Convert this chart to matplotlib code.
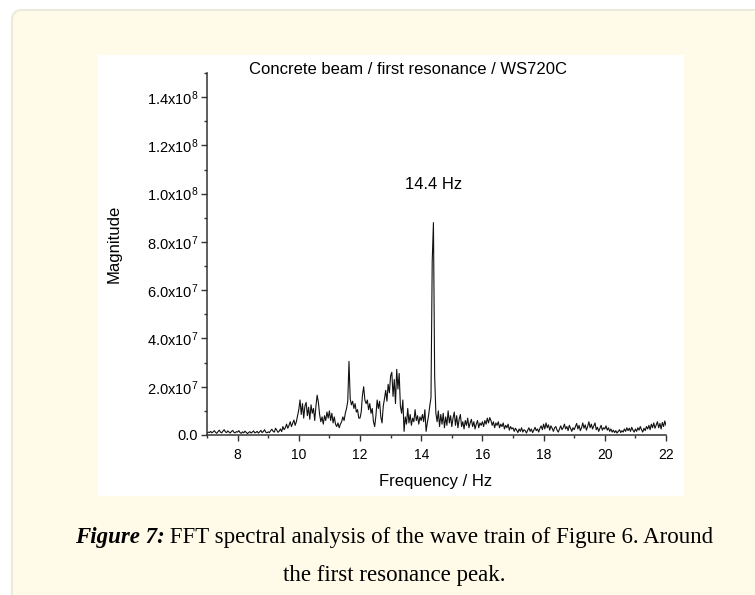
import numpy as np
import matplotlib
matplotlib.use("Agg")
import matplotlib.pyplot as plt
from matplotlib.patches import FancyBboxPatch, Rectangle

plt.rcParams['font.family'] = 'Liberation Sans'
plt.rcParams['mathtext.fontset'] = 'custom'
plt.rcParams['mathtext.rm'] = 'Liberation Sans'
plt.rcParams['mathtext.it'] = 'Liberation Sans:italic'

# FFT bins: 0.04 Hz spacing from 7 Hz to 22 Hz
FREQ_START = 7.0
FREQ_STEP = 0.04

# Magnitude, in units of 1e7, one row per Hz
magnitude = [
    # 7 Hz
    0.08, 0.12, 0.10, 0.15, 0.09, 0.13, 0.18, 0.11, 0.07, 0.14, 0.20, 0.12, 0.09,
    0.16, 0.22, 0.13, 0.10, 0.17, 0.12, 0.08, 0.15, 0.19, 0.11, 0.09, 0.14,
    # 8 Hz
    0.12, 0.18, 0.10, 0.07, 0.13, 0.09, 0.16, 0.11, 0.06, 0.10, 0.14, 0.08, 0.12,
    0.17, 0.09, 0.11, 0.15, 0.08, 0.13, 0.19, 0.10, 0.14, 0.22, 0.12, 0.09,
    # 9 Hz
    0.13, 0.10, 0.18, 0.24, 0.15, 0.12, 0.28, 0.20, 0.11, 0.16, 0.25, 0.14, 0.35,
    0.22, 0.30, 0.45, 0.28, 0.40, 0.55, 0.35, 0.48, 0.62, 0.40, 0.55, 0.80,
    # 10 Hz
    1.05, 1.45, 0.85, 1.30, 0.70, 1.20, 1.35, 0.80, 1.15, 0.65, 1.25, 0.90, 1.10,
    0.60, 1.20, 1.65, 1.35, 0.85, 0.55, 0.75, 0.45, 0.80, 0.60, 0.95, 0.70,
    # 11 Hz
    1.00, 0.60, 0.90, 0.50, 0.75, 0.45, 0.35, 0.50, 0.30, 0.45, 0.55, 0.75, 0.60,
    0.90, 1.10, 1.40, 3.05, 1.50, 1.25, 1.40, 1.10, 1.30, 0.95, 1.05, 0.70,
    # 12 Hz
    0.70, 0.95, 1.65, 2.00, 1.45, 1.30, 1.45, 1.05, 1.30, 0.90, 1.10, 0.55, 0.35,
    0.80, 1.45, 1.10, 1.40, 0.75, 0.50, 1.20, 1.50, 1.85, 1.40, 2.10, 1.75,
    # 13 Hz
    2.45, 2.60, 1.60, 2.30, 1.30, 2.72, 1.90, 2.55, 1.20, 0.90, 1.45, 0.15, 0.75,
    0.45, 1.10, 0.50, 0.85, 0.40, 0.70, 0.55, 1.05, 0.60, 0.80, 0.45, 0.75,
    # 14 Hz
    0.60, 0.85, 0.55, 1.05, 0.15, 0.50, 0.80, 1.20, 1.55, 7.20, 8.80, 2.40, 0.90,
    0.55, 1.00, 0.35, 0.85, 0.45, 0.90, 0.30, 0.75, 0.40, 1.00, 0.50, 0.80,
    # 15 Hz
    0.35, 0.70, 0.95, 0.40, 0.80, 0.30, 0.65, 0.85, 0.35, 0.55, 0.25, 0.60, 0.40,
    0.70, 0.30, 0.50, 0.65, 0.35, 0.55, 0.25, 0.45, 0.60, 0.30, 0.50, 0.40,
    # 16 Hz
    0.55, 0.35, 0.60, 0.45, 0.70, 0.50, 0.72, 0.60, 0.40, 0.55, 0.30, 0.50, 0.40,
    0.55, 0.30, 0.45, 0.35, 0.50, 0.25, 0.40, 0.30, 0.45, 0.20, 0.35, 0.25,
    # 17 Hz
    0.30, 0.15, 0.28, 0.20, 0.10, 0.25, 0.15, 0.30, 0.12, 0.22, 0.18, 0.08, 0.20,
    0.30, 0.15, 0.25, 0.10, 0.20, 0.32, 0.18, 0.25, 0.12, 0.28, 0.38, 0.22,
    # 18 Hz
    0.45, 0.25, 0.50, 0.30, 0.42, 0.20, 0.38, 0.28, 0.15, 0.30, 0.35, 0.20, 0.12,
    0.25, 0.38, 0.22, 0.30, 0.45, 0.25, 0.35, 0.18, 0.40, 0.28, 0.15, 0.30,
    # 19 Hz
    0.22, 0.35, 0.48, 0.25, 0.40, 0.18, 0.30, 0.50, 0.28, 0.42, 0.20, 0.35, 0.55,
    0.30, 0.45, 0.25, 0.38, 0.50, 0.22, 0.32, 0.15, 0.28, 0.40, 0.20, 0.30,
    # 20 Hz
    0.25, 0.38, 0.20, 0.30, 0.15, 0.25, 0.12, 0.20, 0.10, 0.18, 0.08, 0.15, 0.22,
    0.10, 0.18, 0.12, 0.25, 0.15, 0.30, 0.18, 0.28, 0.15, 0.32, 0.20, 0.12,
    # 21 Hz .. 22 Hz
    0.25, 0.15, 0.30, 0.20, 0.35, 0.22, 0.12, 0.28, 0.18, 0.35, 0.25, 0.40, 0.22,
    0.45, 0.30, 0.50, 0.28, 0.42, 0.55, 0.30, 0.48, 0.25, 0.52, 0.35, 0.58, 0.40,
]

xticks = [8, 10, 12, 14, 16, 18, 20, 22]
yticks = [0, 2e7, 4e7, 6e7, 8e7, 1.0e8, 1.2e8, 1.4e8]
ytick_labels = ["0.0", "2.0x10$^{7}$", "4.0x10$^{7}$", "6.0x10$^{7}$",
                "8.0x10$^{7}$", "1.0x10$^{8}$", "1.2x10$^{8}$", "1.4x10$^{8}$"]

title = "Concrete beam / first resonance / WS720C"
peak_label = "14.4 Hz"
caption_bold = "Figure 7:"
caption_line1 = " FFT spectral analysis of the wave train of Figure 6. Around"
caption_line2 = "the first resonance peak."

mag = np.array(magnitude) * 1e7
freq = FREQ_START + FREQ_STEP * np.arange(len(mag))

W, H = 755, 595
fig = plt.figure(figsize=(W / 100, H / 100), dpi=100, facecolor='white')

# page background drawn in pixel coordinates
bg = fig.add_axes([0, 0, 1, 1], zorder=-1)
bg.set_xlim(0, W)
bg.set_ylim(H, 0)
bg.axis('off')
bg.add_patch(FancyBboxPatch((12, 10), 800, 700,
                            boxstyle="round,pad=0,rounding_size=10",
                            fc='#FFFBE8', ec='#ECE9DD', lw=1.5))
bg.add_patch(Rectangle((98, 55), 586, 441, fc='white', ec='none'))

# plot area: 207..666 px across, 73..435 px down
ax = fig.add_axes([207 / W, 1 - 435 / H, 459 / W, 362 / H])
ax.patch.set_alpha(0)
ax.plot(freq, mag, color='#111111', lw=0.8)

ax.set_xlim(7, 22)
ax.set_ylim(0, 1.5e8)
ax.set_xticks(xticks)
ax.set_xticks(np.arange(7, 23, 2), minor=True)
ax.set_yticks(yticks)
ax.set_yticklabels(ytick_labels)
ax.set_yticks(np.arange(1e7, 1.6e8, 2e7), minor=True)

for s in ['top', 'right']:
    ax.spines[s].set_visible(False)
for s in ['left', 'bottom']:
    ax.spines[s].set_color('#333333')
    ax.spines[s].set_linewidth(1.1)

ax.tick_params(which='major', length=4.3, width=1, color='#333333')
ax.tick_params(which='minor', length=2.4, width=1, color='#333333')
ax.tick_params(axis='x', which='major', labelsize=10, pad=5)
ax.tick_params(axis='y', which='major', labelsize=10.5, pad=2)

ax.set_xlabel("Frequency / Hz", fontsize=12)
ax.set_ylabel("Magnitude", fontsize=12)
ax.xaxis.set_label_coords(0.499, -0.108)
ax.yaxis.set_label_coords(-0.185, 0.528)

ax.text(14.4, 1.04e8, peak_label, ha='center', va='center', fontsize=12)
bg.text(408, 69, title, ha='center', va='center', fontsize=12)

# caption, first line has a bold italic lead-in
cap_font = dict(family='Liberation Serif', fontsize=16.5)
fig.canvas.draw()
r = fig.canvas.get_renderer()
t1 = bg.text(0, 537, caption_bold, ha='left', va='center',
             fontweight='bold', fontstyle='italic', **cap_font)
t2 = bg.text(0, 537, caption_line1, ha='left', va='center', **cap_font)
w1 = t1.get_window_extent(r).width
w2 = t2.get_window_extent(r).width
x0 = 394 - (w1 + w2) / 2
t1.set_x(x0)
t2.set_x(x0 + w1)
bg.text(394, 575, caption_line2, ha='center', va='center', **cap_font)

fig.savefig("out.png", dpi=100, facecolor='white')
